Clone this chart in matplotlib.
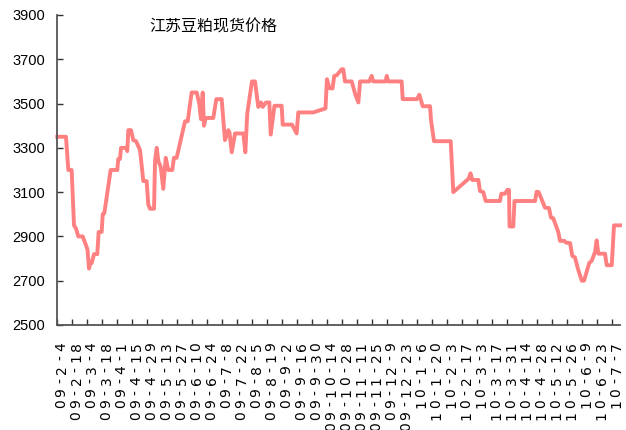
import matplotlib
matplotlib.use("Agg")
import matplotlib.pyplot as plt
from matplotlib.transforms import ScaledTranslation

# Days since 2009-02-04 and spot price (yuan/ton)
days = [0, 8.1, 10.3, 13.4, 15.6, 17.5, 19.6, 23.7, 26.8, 28.2, 29.6, 31.2, 32.1, 34.3, 37.3,
        38.6, 41.4, 42.4, 43.9, 49.8, 56.0, 56.9, 58.5, 59.5, 64.1, 65.3, 66.3, 68.8, 70.9,
        73.5, 77.2, 78.8, 80.3, 83.4, 84.9, 86.5, 90.3, 91.2, 92.8, 94.3, 96.5, 98.9, 101.2,
        103.6, 107.3, 108.9, 111.4, 119.2, 121.7, 125.4, 130.1, 132.5, 134.1, 135.7, 136.9,
        138.5, 145.6, 148.4, 153.4, 156.5, 159.6, 160.7, 162.8, 165.9, 173.6, 175.5, 177.3,
        181.7, 184.5, 187.6, 190.2, 191.7, 194.8, 197.9, 199.2, 202.7, 209.4, 210.4, 219.1,
        223.4, 224.9, 238.9, 250.3, 251.7, 254.0, 256.9, 258.5, 260.8, 265.4, 266.9, 268.5,
        274.8, 277.9, 281.0, 282.6, 291.2, 293.4, 294.9, 306.3, 307.5, 308.9, 321.4, 322.4,
        335.7, 337.9, 341.0, 347.9, 348.8, 351.6, 367.2, 369.6, 383.8, 385.7, 387.3, 393.0,
        394.5, 397.6, 399.8, 413.2, 414.4, 417.9, 420.0, 421.6, 422.1, 425.6, 426.7, 445.9,
        447.4, 449.3, 455.2, 458.9, 460.8, 462.9, 467.6, 469.2, 473.2, 474.8, 478.6, 480.7,
        483.2, 485.8, 489.5, 491.6, 496.5, 498.8, 501.9, 503.4, 505.0, 511.2, 512.8, 517.5,
        519.6, 525.2]
prices = [3350, 3350, 3200, 3200, 2950, 2935, 2900, 2900, 2860, 2840, 2755, 2785, 2780, 2820, 2820,
          2920, 2920, 3000, 3005, 3200, 3200, 3250, 3250, 3300, 3300, 3285, 3380, 3380, 3335,
          3330, 3290, 3220, 3150, 3150, 3045, 3025, 3025, 3240, 3300, 3240, 3215, 3115, 3255,
          3200, 3200, 3255, 3255, 3420, 3420, 3550, 3550, 3500, 3430, 3550, 3400,
          3435, 3435, 3520, 3520, 3335, 3380, 3370, 3280, 3365, 3365, 3280, 3455,
          3600, 3600, 3485, 3505, 3485, 3505, 3505, 3360, 3490, 3490, 3405, 3405,
          3365, 3460, 3460, 3478, 3610, 3570, 3568, 3625, 3628, 3655, 3655, 3600,
          3600, 3545, 3505, 3600, 3600, 3625, 3600, 3600, 3625, 3600, 3600, 3520,
          3520, 3540, 3488, 3488, 3425, 3330, 3330, 3100, 3160, 3185, 3155, 3155,
          3105, 3100, 3060, 3060, 3093, 3093, 3110, 3110, 2945, 2945, 3060, 3060,
          3102, 3100, 3030, 3028, 2985, 2982, 2920, 2880, 2880, 2872, 2870, 2812,
          2805, 2756, 2700, 2700, 2780, 2790, 2830, 2882, 2822, 2822, 2770, 2770,
          2950, 2950]

tick_days = [14 * i for i in range(38)]
tick_labels = ["09-2-4", "09-2-18", "09-3-4", "09-3-18", "09-4-1", "09-4-15", "09-4-29",
               "09-5-13", "09-5-27", "09-6-10", "09-6-24", "09-7-8", "09-7-22", "09-8-5",
               "09-8-19", "09-9-2", "09-9-16", "09-9-30", "09-10-14", "09-10-28", "09-11-11",
               "09-11-25", "09-12-9", "09-12-23", "10-1-6", "10-1-20", "10-2-3", "10-2-17",
               "10-3-3", "10-3-17", "10-3-31", "10-4-14", "10-4-28", "10-5-12", "10-5-26",
               "10-6-9", "10-6-23", "10-7-7"]
y_ticks = [2500, 2700, 2900, 3100, 3300, 3500, 3700, 3900]
title = "江苏豆粕现货价格"

plt.rcParams['font.family'] = ['Liberation Sans', 'DejaVu Sans']

W, H = 626, 430
fig = plt.figure(figsize=(W / 100, H / 100), dpi=100)
ax = fig.add_axes([57.3 / W, 1 - 325 / H, (620 - 57.3) / W, (325 - 15) / H])

ax.plot(days, prices, color='#FF8080', lw=2.8, solid_joinstyle='round', clip_on=False)

ax.set_xlim(0, 525.2)
ax.set_ylim(2500, 3900)
ax.set_yticks(y_ticks)
ax.set_yticklabels([str(v) for v in y_ticks], fontsize=10.5)
ax.set_xticks(tick_days)
ax.set_xticklabels([''] * len(tick_days))

for s in ['top', 'right']:
    ax.spines[s].set_visible(False)
for s in ['left', 'bottom']:
    ax.spines[s].set_color('#555555')
    ax.spines[s].set_linewidth(1.3)
ax.tick_params(axis='both', direction='in', length=4, width=1, color='#333333')
ax.tick_params(axis='y', pad=9)

# rotated, evenly spaced x labels
base = ax.get_xaxis_transform()
for d, lab in zip(tick_days, tick_labels):
    for j, ch in enumerate(reversed(lab)):
        t = base + ScaledTranslation(4.3 / 100, -(21.5 + j * 11.5) / 100, fig.dpi_scale_trans)
        ax.text(d, 0, ch, transform=t, rotation=90, ha='center', va='center',
                fontsize=10, family=['DejaVu Sans'], clip_on=False)

fig.text(213.5 / W, 1 - 27 / H, title, ha='center', va='center', fontsize=11.5,
         family=['Noto Sans CJK SC', 'DejaVu Sans'])

fig.savefig('out.png', dpi=100)
